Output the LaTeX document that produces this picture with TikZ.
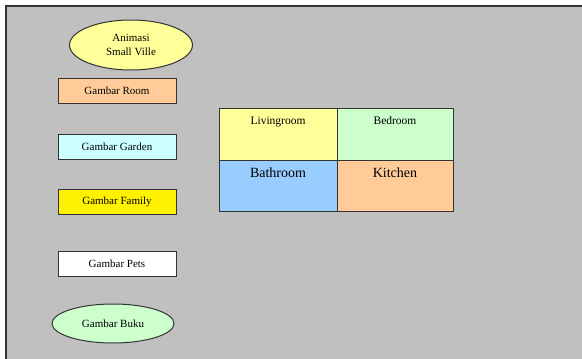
\documentclass[tikz,border=0pt]{standalone}
\usepackage{fontspec}
\setmainfont{Liberation Serif}
\usetikzlibrary{shapes.geometric}
\definecolor{panel}{HTML}{C0C0C0}
\definecolor{edge}{HTML}{333333}
\definecolor{paleyellow}{HTML}{FFFF99}
\definecolor{palegreen}{HTML}{CCFFCC}
\definecolor{peach}{HTML}{FFCC99}
\definecolor{palecyan}{HTML}{CCFFFF}
\definecolor{skyblue}{HTML}{99CCFF}
\tikzset{
  menubox/.style={draw=edge, line width=1pt, minimum width=118pt, minimum height=25pt, inner sep=0pt, font=\fontsize{11}{12}\selectfont},
  menuoval/.style={ellipse, draw=edge, line width=1pt, inner sep=0pt, font=\fontsize{11}{14}\selectfont, align=center},
  room/.style={draw=edge, line width=1pt, inner sep=0pt},
  smalltag/.style={anchor=north, yshift=-5.5pt, font=\fontsize{11.5}{12}\selectfont},
  bigtag/.style={anchor=north, yshift=-4.5pt, font=\fontsize{14}{16}\selectfont}
}
\begin{document}
\begin{tikzpicture}[x=1pt, y=-1pt]
\useasboundingbox (0,0) rectangle (582,359);
% panel with its frame on the left and top only
\fill[panel] (6,6) rectangle (582,359);
\draw[edge, line width=1.5pt] (6,359) -- (6,6) -- (582,6);

% menu on the left
\node[menuoval, fill=paleyellow, minimum width=123pt, minimum height=50pt] (title) at (131,45) {Animasi\\Small Ville};
\node[menubox, fill=peach] (room) at (117,90.5) {Gambar Room};
\node[menubox, fill=palecyan] (garden) at (117,147) {Gambar Garden};
\node[menubox, fill=yellow] (family) at (117,202) {Gambar Family};
\node[menubox, fill=white] (pets) at (117,264) {Gambar Pets};
\node[menuoval, fill=palegreen, minimum width=122pt, minimum height=39pt] (buku) at (113,323.5) {Gambar Buku};

% house plan, two by two
\node[room, fill=paleyellow, minimum width=118pt, minimum height=52pt, label={[smalltag]north:Livingroom}] (living) at (278,134) {};
\node[room, fill=palegreen, minimum width=116pt, minimum height=52pt, label={[smalltag]north:Bedroom}] (bedroom) at (395,134) {};
\node[room, fill=skyblue, minimum width=118pt, minimum height=51pt, label={[bigtag]north:Bathroom}] (bathroom) at (278,185.5) {};
\node[room, fill=peach, minimum width=116pt, minimum height=51pt, label={[bigtag]north:Kitchen}] (kitchen) at (395,185.5) {};
\end{tikzpicture}
\end{document}
